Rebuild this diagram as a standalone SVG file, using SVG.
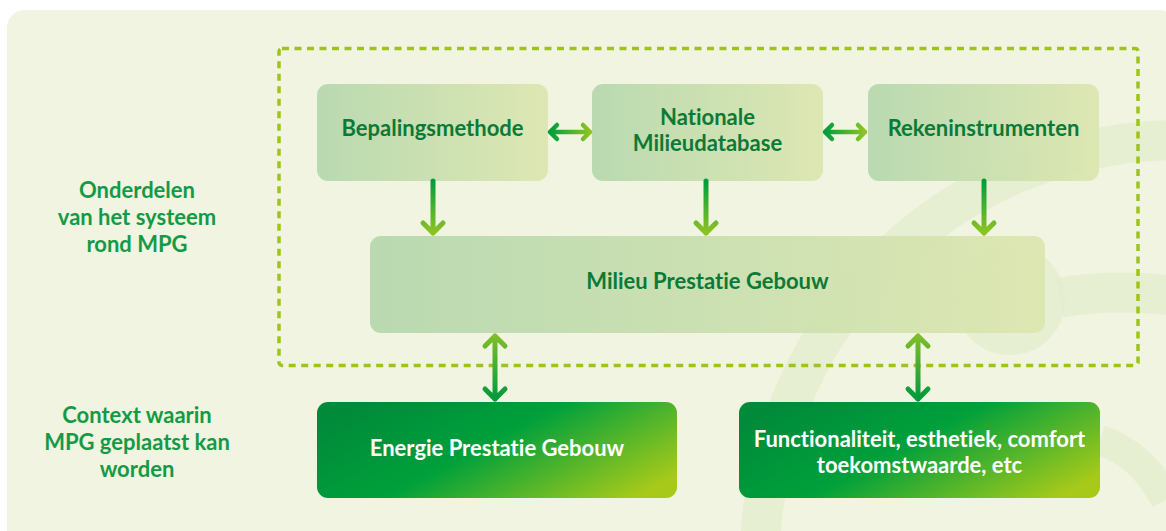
<svg xmlns="http://www.w3.org/2000/svg" width="1166" height="531" viewBox="0 0 1166 531">
  <defs>
    <linearGradient id="softBox" x1="0" y1="0" x2="1" y2="0">
      <stop offset="0" stop-color="#B5D7AD"/>
      <stop offset="1" stop-color="#DCE6AF"/>
    </linearGradient>
    <linearGradient id="strongBox" x1="0" y1="0.25" x2="1" y2="0.75">
      <stop offset="0" stop-color="#008A3A"/>
      <stop offset="0.45" stop-color="#00A03B"/>
      <stop offset="1" stop-color="#A6C91A"/>
    </linearGradient>
    <linearGradient id="downArrow" x1="0" y1="0" x2="0" y2="1">
      <stop offset="0" stop-color="#009E3D"/>
      <stop offset="1" stop-color="#8EC321"/>
    </linearGradient>
    <linearGradient id="sideArrow" x1="0" y1="0" x2="1" y2="0">
      <stop offset="0" stop-color="#009E3D"/>
      <stop offset="1" stop-color="#8EC321"/>
    </linearGradient>
    <linearGradient id="upDownArrow" x1="0" y1="0" x2="0" y2="1">
      <stop offset="0" stop-color="#7EBE29"/>
      <stop offset="1" stop-color="#009A3C"/>
    </linearGradient>
  </defs>
  <style>
    .panel { fill: #F0F4E0; }
    .swirl { fill: none; stroke: #E3ECCD; opacity: 0.7; }
    .swirlFill { fill: #E3ECCD; opacity: 0.7; }
    .frame { fill: none; stroke: #9EC41C; stroke-width: 3.5; stroke-dasharray: 7 5.5; }
    .soft { fill: url(#softBox); fill-opacity: 0.92; }
    .strong { fill: url(#strongBox); }
    .lbl { font-family: Lato, "Liberation Sans", sans-serif; font-weight: 700; font-size: 22px; text-anchor: middle; font-variant-ligatures: none; }
    .dark { fill: #0B7A37; }
    .side { fill: #149A47; }
    .white { fill: #FFFFFF; }
    .arrow { fill: none; stroke-width: 5; stroke-linecap: round; stroke-linejoin: round; }
    .thin { stroke-width: 4.5; }
  </style>

  <!-- page panel -->
  <rect class="panel" x="7" y="10" width="1170" height="540" rx="18"/>

  <!-- faint emblem in the background -->
  <g id="emblem">
    <circle class="swirl" cx="1180" cy="560" r="420" stroke-width="40"/>
    <circle class="swirl" cx="1010" cy="300" r="44" stroke-width="22"/>
    <circle class="swirlFill" cx="1010" cy="300" r="32"/>
    <path class="swirl" d="M1060,298 C1100,290 1140,292 1180,296" stroke-width="40"/>
    <path class="swirl" d="M1100,440 C1130,450 1150,470 1166,500" stroke-width="30"/>
  </g>

  <!-- dashed system boundary -->
  <rect id="system-frame" class="frame" x="279" y="48.5" width="859" height="317" rx="3"/>

  <!-- side labels -->
  <g id="label-system">
    <text class="lbl side" x="137" y="198">Onderdelen</text>
    <text class="lbl side" x="137" y="225">van het systeem</text>
    <text class="lbl side" x="137" y="251.5">rond MPG</text>
  </g>
  <g id="label-context">
    <text class="lbl side" x="137" y="423">Context waarin</text>
    <text class="lbl side" x="137" y="450">MPG geplaatst kan</text>
    <text class="lbl side" x="137" y="476.5">worden</text>
  </g>

  <!-- nodes -->
  <g id="bepalingsmethode">
    <rect class="soft" x="317" y="84" width="231" height="97" rx="11"/>
    <text class="lbl dark" x="432.5" y="136">Bepalingsmethode</text>
  </g>
  <g id="nationale-milieudatabase">
    <rect class="soft" x="592" y="84" width="231" height="97" rx="11"/>
    <text class="lbl dark" x="707.5" y="124.5">Nationale</text>
    <text class="lbl dark" x="707.5" y="150.5">Milieudatabase</text>
  </g>
  <g id="rekeninstrumenten">
    <rect class="soft" x="868" y="84" width="231" height="97" rx="11"/>
    <text class="lbl dark" x="983.5" y="136">Rekeninstrumenten</text>
  </g>
  <g id="milieu-prestatie-gebouw">
    <rect class="soft" x="370" y="236" width="675" height="97" rx="11"/>
    <text class="lbl dark" x="707.5" y="289">Milieu Prestatie Gebouw</text>
  </g>
  <g id="energie-prestatie-gebouw">
    <rect class="strong" x="317" y="402" width="360" height="96" rx="11"/>
    <text class="lbl white" x="497" y="456">Energie Prestatie Gebouw</text>
  </g>
  <g id="functionaliteit">
    <rect class="strong" x="739" y="402" width="361" height="96" rx="11"/>
    <text class="lbl white" x="919.5" y="446.5">Functionaliteit, esthetiek, comfort</text>
    <text class="lbl white" x="919.5" y="473">toekomstwaarde, etc</text>
  </g>

  <!-- connectors -->
  <g id="connectors">
    <path class="arrow thin" stroke="url(#sideArrow)" d="M550,132 H590 M557,125 L550,132 L557,139 M583,125 L590,132 L583,139"/>
    <path class="arrow thin" stroke="url(#sideArrow)" d="M825,132 H865 M832,125 L825,132 L832,139 M858,125 L865,132 L858,139"/>
    <path class="arrow" stroke="url(#downArrow)" d="M433,181 V233 M423,223 L433,233 L443,223"/>
    <path class="arrow" stroke="url(#downArrow)" d="M706,181 V233 M696,223 L706,233 L716,223"/>
    <path class="arrow" stroke="url(#downArrow)" d="M984,181 V233 M974,223 L984,233 L994,223"/>
    <path class="arrow" stroke="url(#upDownArrow)" d="M495,336 V399 M485,346 L495,336 L505,346 M485,389 L495,399 L505,389"/>
    <path class="arrow" stroke="url(#upDownArrow)" d="M918,336 V399 M908,346 L918,336 L928,346 M908,389 L918,399 L928,389"/>
  </g>
</svg>
